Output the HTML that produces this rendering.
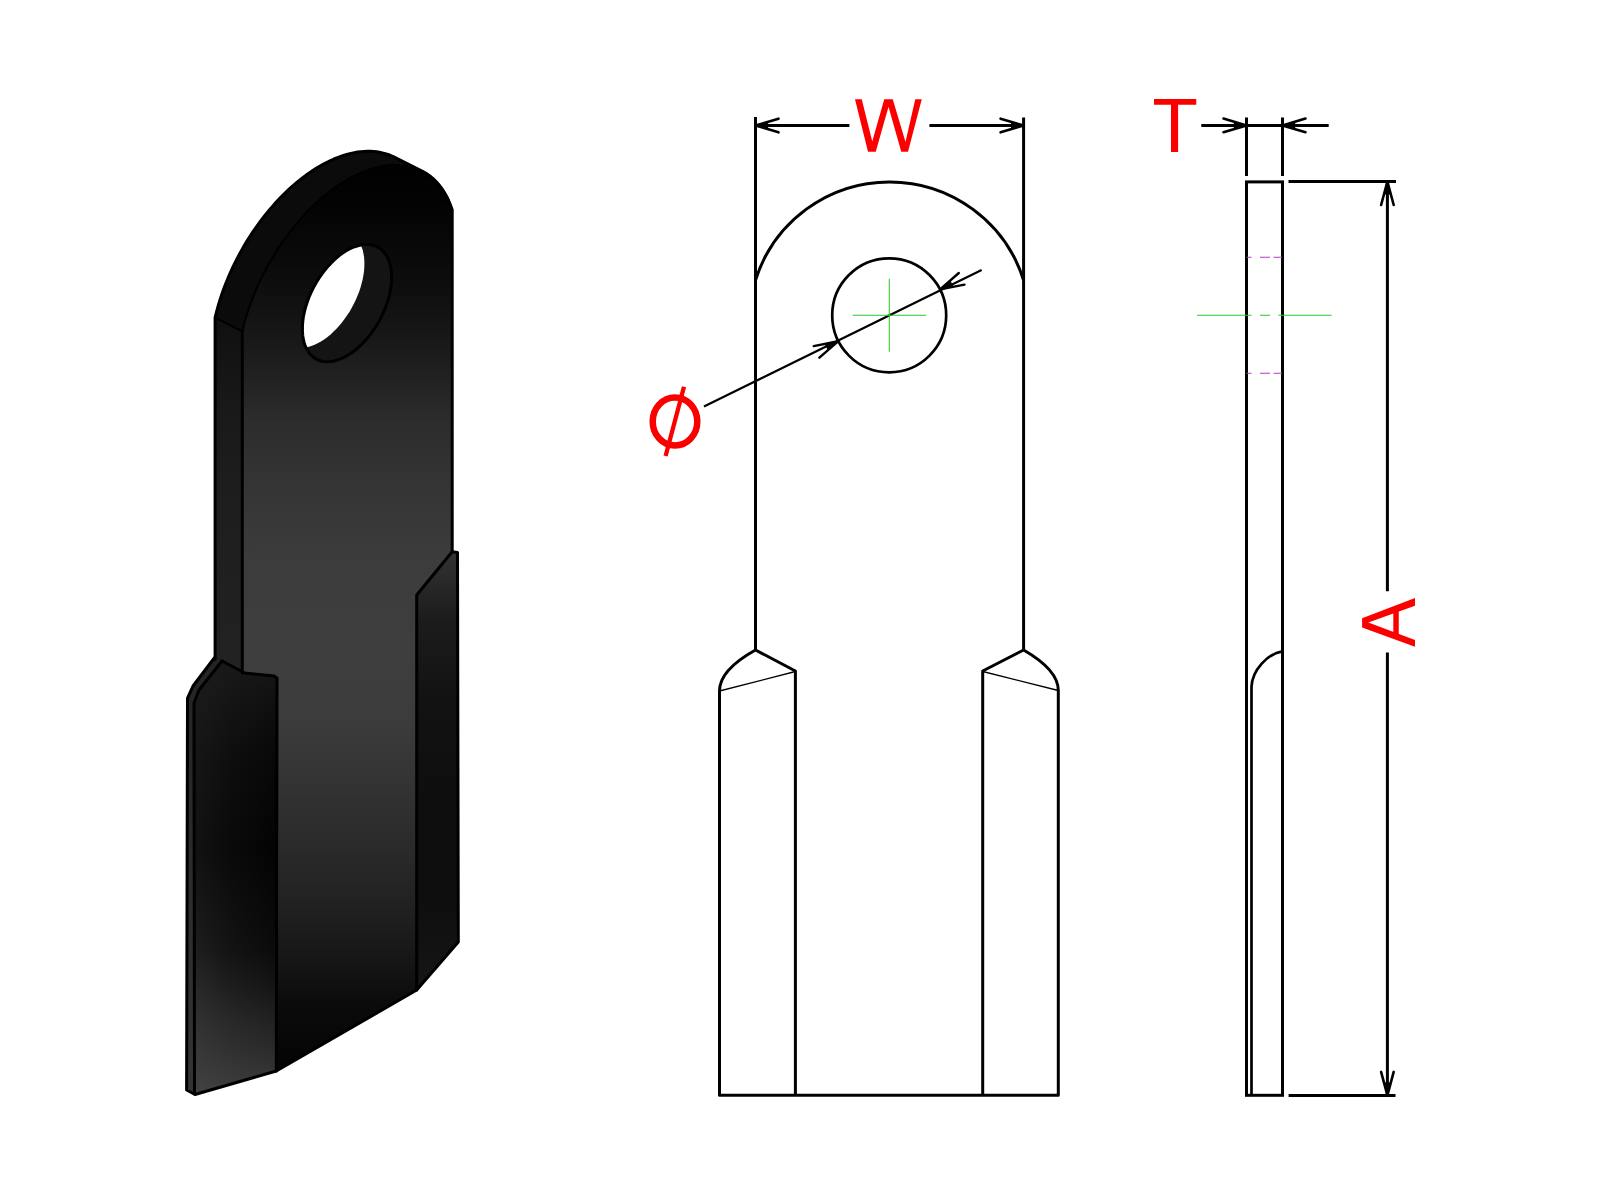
<!DOCTYPE html>
<html><head><meta charset="utf-8"><title>Blade drawing</title>
<style>html,body{margin:0;padding:0;background:#fff;} svg{display:block;}</style></head>
<body><svg width="1600" height="1200" viewBox="0 0 1600 1200">
<rect width="1600" height="1200" fill="#fff"/>

<defs>
  <linearGradient id="gFront" gradientUnits="userSpaceOnUse" x1="0" y1="150" x2="0" y2="1075">
    <stop offset="0.000" stop-color="#000000"/><stop offset="0.054" stop-color="#030303"/><stop offset="0.119" stop-color="#0a0a0a"/><stop offset="0.162" stop-color="#101010"/><stop offset="0.205" stop-color="#181818"/><stop offset="0.249" stop-color="#222222"/><stop offset="0.292" stop-color="#2c2c2c"/><stop offset="0.357" stop-color="#343434"/><stop offset="0.443" stop-color="#3c3c3c"/><stop offset="0.541" stop-color="#3e3e3e"/><stop offset="0.616" stop-color="#3c3c3c"/><stop offset="0.681" stop-color="#343434"/><stop offset="0.757" stop-color="#2a2a2a"/><stop offset="0.811" stop-color="#222222"/><stop offset="0.876" stop-color="#161616"/><stop offset="0.919" stop-color="#0c0c0c"/><stop offset="0.984" stop-color="#040404"/><stop offset="1.000" stop-color="#030303"/>
  </linearGradient>
  <linearGradient id="gStrip" gradientUnits="userSpaceOnUse" x1="0" y1="320" x2="0" y2="670">
    <stop offset="0.000" stop-color="#101010"/><stop offset="0.229" stop-color="#181818"/><stop offset="0.514" stop-color="#1e1e1e"/><stop offset="1.000" stop-color="#222222"/>
  </linearGradient>
  <linearGradient id="gLF" gradientUnits="userSpaceOnUse" x1="0" y1="680" x2="0" y2="1095">
    <stop offset="-0.024" stop-color="#1c1c1c"/><stop offset="0.193" stop-color="#161616"/><stop offset="0.410" stop-color="#121212"/><stop offset="0.651" stop-color="#1e1e1e"/><stop offset="0.819" stop-color="#323232"/><stop offset="1.000" stop-color="#424242"/>
  </linearGradient>
  <linearGradient id="gLFo" gradientUnits="userSpaceOnUse" x1="195" y1="0" x2="277" y2="0">
    <stop offset="0" stop-color="#000" stop-opacity="0"/>
    <stop offset="0.45" stop-color="#000" stop-opacity="0.45"/>
    <stop offset="1" stop-color="#000" stop-opacity="0.8"/>
  </linearGradient>
  <linearGradient id="gLFm" gradientUnits="userSpaceOnUse" x1="0" y1="670" x2="0" y2="1095">
    <stop offset="0.000" stop-color="#505050"/><stop offset="0.212" stop-color="#c8c8c8"/><stop offset="0.424" stop-color="#ffffff"/><stop offset="0.659" stop-color="#c8c8c8"/><stop offset="0.824" stop-color="#6e6e6e"/><stop offset="1.000" stop-color="#191919"/>
  </linearGradient>
  <mask id="mLF" maskUnits="userSpaceOnUse" x="150" y="600" width="200" height="550"><rect x="150" y="600" width="200" height="550" fill="url(#gLFm)"/></mask>
  <linearGradient id="gRF" gradientUnits="userSpaceOnUse" x1="0" y1="552" x2="0" y2="990">
    <stop offset="0.000" stop-color="#323232"/><stop offset="0.155" stop-color="#1c1c1c"/><stop offset="0.338" stop-color="#121212"/><stop offset="0.566" stop-color="#0e0e0e"/><stop offset="0.795" stop-color="#0e0e0e"/><stop offset="1.000" stop-color="#161616"/>
  </linearGradient>
  <linearGradient id="gThin" gradientUnits="userSpaceOnUse" x1="0" y1="660" x2="0" y2="1095">
    <stop offset="0.000" stop-color="#242424"/><stop offset="1.000" stop-color="#343434"/>
  </linearGradient>
  <clipPath id="cHoleF"><polygon points="391.6,277.3 391.5,281.0 391.2,284.9 390.6,288.8 389.9,292.8 388.9,296.8 387.8,300.9 386.4,305.0 384.8,309.1 383.1,313.2 381.2,317.2 379.1,321.1 376.9,325.0 374.5,328.7 371.9,332.3 369.3,335.8 366.6,339.1 363.7,342.3 360.8,345.2 357.8,348.0 354.7,350.5 351.7,352.8 348.5,354.8 345.4,356.6 342.3,358.2 339.2,359.4 336.2,360.4 333.2,361.2 330.3,361.6 327.4,361.7 324.7,361.6 322.0,361.2 319.5,360.5 317.1,359.5 314.9,358.2 312.8,356.7 310.9,354.9 309.1,352.9 307.6,350.6 306.2,348.1 305.0,345.3 304.1,342.4 303.3,339.2 302.8,335.9 302.5,332.5 302.4,328.9 302.5,325.1 302.8,321.3 303.3,317.3 304.1,313.3 305.0,309.3 306.2,305.2 307.6,301.1 309.1,297.0 310.9,292.9 312.8,288.9 314.9,285.0 317.1,281.1 319.5,277.4 322.0,273.8 324.7,270.3 327.4,267.0 330.3,263.9 333.2,260.9 336.2,258.2 339.2,255.6 342.3,253.3 345.4,251.3 348.5,249.5 351.7,247.9 354.7,246.7 357.8,245.7 360.8,245.0 363.7,244.5 366.6,244.4 369.3,244.5 371.9,244.9 374.5,245.6 376.9,246.6 379.1,247.9 381.2,249.4 383.1,251.2 384.8,253.3 386.4,255.5 387.8,258.1 388.9,260.8 389.9,263.7 390.6,266.9 391.2,270.2 391.5,273.7"/></clipPath>
</defs>
<polygon points="215.1,659.5 215.1,317.7 216.2,313.2 217.4,308.6 218.7,304.0 220.1,299.5 221.6,294.9 223.2,290.3 224.9,285.7 226.7,281.2 228.6,276.6 230.6,272.1 232.6,267.6 234.8,263.1 237.1,258.7 239.4,254.3 241.8,249.9 244.3,245.6 246.8,241.3 249.5,237.1 252.2,232.9 255.0,228.9 257.8,224.8 260.7,220.9 263.7,217.0 266.7,213.2 269.8,209.5 272.9,205.9 276.0,202.3 279.3,198.9 282.5,195.5 285.8,192.3 289.1,189.2 292.5,186.1 295.9,183.2 299.3,180.4 302.7,177.7 306.2,175.1 309.6,172.7 313.1,170.3 316.6,168.1 320.1,166.0 323.5,164.1 327.0,162.3 330.5,160.6 334.0,159.0 337.4,157.6 340.8,156.4 344.2,155.2 347.6,154.3 351.0,153.4 354.3,152.7 357.6,152.1 360.9,151.7 364.1,151.5 367.2,151.3 370.4,151.3 373.4,151.5 376.5,151.8 379.4,152.3 382.3,152.9 385.2,153.6 387.9,154.5 390.6,155.5 393.3,156.7 420.5,170.3 423.0,171.6 425.5,173.0 427.9,174.6 430.3,176.3 432.5,178.2 434.7,180.2 436.7,182.3 438.7,184.5 440.6,186.9 442.4,189.4 444.1,192.0 445.7,194.7 447.2,197.5 448.6,200.5 449.9,203.5 451.1,206.7 452.2,210.0 452.2,551.7 457.5,552.5 458.3,942.0 416.7,990.0 276.3,1071.0 195.0,1094.5 186.6,1090.0 187.5,698.0 193.0,686.0 215.0,657.0" fill="#0b0b0b"/>
<polygon points="215.1,317.6 242.3,331.3 242.3,673.1 222.0,661.0 215.0,657.0" fill="url(#gStrip)"/>
<polygon points="242.3,331.3 243.4,326.8 244.6,322.2 245.9,317.6 247.3,313.1 248.8,308.5 250.4,303.9 252.1,299.3 253.9,294.8 255.8,290.2 257.8,285.7 259.8,281.2 262.0,276.7 264.3,272.3 266.6,267.9 269.0,263.5 271.5,259.2 274.0,254.9 276.7,250.7 279.4,246.5 282.2,242.5 285.0,238.4 287.9,234.5 290.9,230.6 293.9,226.8 297.0,223.1 300.1,219.5 303.2,215.9 306.5,212.5 309.7,209.1 313.0,205.9 316.3,202.8 319.7,199.7 323.1,196.8 326.5,194.0 329.9,191.3 333.4,188.7 336.8,186.3 340.3,183.9 343.8,181.7 347.3,179.6 350.7,177.7 354.2,175.9 357.7,174.2 361.2,172.6 364.6,171.2 368.0,170.0 371.4,168.8 374.8,167.9 378.2,167.0 381.5,166.3 384.8,165.7 388.1,165.3 391.3,165.1 394.4,164.9 397.6,164.9 400.6,165.1 403.7,165.4 406.6,165.9 409.5,166.5 412.4,167.2 415.1,168.1 417.8,169.1 420.5,170.3 423.0,171.6 425.5,173.0 427.9,174.6 430.3,176.3 432.5,178.2 434.7,180.2 436.7,182.3 438.7,184.5 440.6,186.9 442.4,189.4 444.1,192.0 445.7,194.7 447.2,197.5 448.6,200.5 449.9,203.5 451.1,206.7 452.2,210.0 452.2,551.7 416.7,595.0 416.7,990.0 276.3,1071.0 277.0,678.0 274.0,676.0 245.0,673.0 242.3,673.1" fill="url(#gFront)"/>
<polygon points="222.0,661.0 245.0,673.0 274.0,676.0 277.0,678.0 276.3,1071.0 195.0,1094.5 194.0,703.0 199.0,690.0" fill="url(#gLF)"/>
<polygon points="222.0,661.0 245.0,673.0 274.0,676.0 277.0,678.0 276.3,1071.0 195.0,1094.5 194.0,703.0 199.0,690.0" fill="url(#gLFo)" mask="url(#mLF)"/>
<polygon points="215.0,657.0 222.0,661.0 199.0,690.0 194.0,703.0 195.0,1094.5 186.6,1090.0 187.5,698.0 193.0,686.0" fill="url(#gThin)"/>
<polygon points="452.2,551.7 457.5,552.5 458.3,942.0 416.7,990.0 416.7,595.0" fill="url(#gRF)"/>
<polygon points="391.6,277.3 391.5,281.0 391.2,284.9 390.6,288.8 389.9,292.8 388.9,296.8 387.8,300.9 386.4,305.0 384.8,309.1 383.1,313.2 381.2,317.2 379.1,321.1 376.9,325.0 374.5,328.7 371.9,332.3 369.3,335.8 366.6,339.1 363.7,342.3 360.8,345.2 357.8,348.0 354.7,350.5 351.7,352.8 348.5,354.8 345.4,356.6 342.3,358.2 339.2,359.4 336.2,360.4 333.2,361.2 330.3,361.6 327.4,361.7 324.7,361.6 322.0,361.2 319.5,360.5 317.1,359.5 314.9,358.2 312.8,356.7 310.9,354.9 309.1,352.9 307.6,350.6 306.2,348.1 305.0,345.3 304.1,342.4 303.3,339.2 302.8,335.9 302.5,332.5 302.4,328.9 302.5,325.1 302.8,321.3 303.3,317.3 304.1,313.3 305.0,309.3 306.2,305.2 307.6,301.1 309.1,297.0 310.9,292.9 312.8,288.9 314.9,285.0 317.1,281.1 319.5,277.4 322.0,273.8 324.7,270.3 327.4,267.0 330.3,263.9 333.2,260.9 336.2,258.2 339.2,255.6 342.3,253.3 345.4,251.3 348.5,249.5 351.7,247.9 354.7,246.7 357.8,245.7 360.8,245.0 363.7,244.5 366.6,244.4 369.3,244.5 371.9,244.9 374.5,245.6 376.9,246.6 379.1,247.9 381.2,249.4 383.1,251.2 384.8,253.3 386.4,255.5 387.8,258.1 388.9,260.8 389.9,263.7 390.6,266.9 391.2,270.2 391.5,273.7" fill="#141414"/>
<polygon points="364.4,263.7 364.3,267.4 364.0,271.3 363.4,275.2 362.7,279.2 361.7,283.2 360.6,287.3 359.2,291.4 357.6,295.5 355.9,299.6 354.0,303.6 351.9,307.5 349.7,311.4 347.3,315.1 344.7,318.7 342.1,322.2 339.4,325.5 336.5,328.7 333.6,331.6 330.6,334.4 327.5,336.9 324.5,339.2 321.3,341.2 318.2,343.0 315.1,344.6 312.0,345.8 309.0,346.8 306.0,347.6 303.1,348.0 300.2,348.1 297.5,348.0 294.8,347.6 292.3,346.9 289.9,345.9 287.7,344.6 285.6,343.1 283.7,341.3 281.9,339.3 280.4,337.0 279.0,334.5 277.8,331.7 276.9,328.8 276.1,325.6 275.6,322.3 275.3,318.9 275.2,315.3 275.3,311.5 275.6,307.7 276.1,303.7 276.9,299.7 277.8,295.7 279.0,291.6 280.4,287.5 281.9,283.4 283.7,279.3 285.6,275.3 287.7,271.4 289.9,267.5 292.3,263.8 294.8,260.2 297.5,256.7 300.2,253.4 303.1,250.3 306.0,247.3 309.0,244.6 312.0,242.0 315.1,239.7 318.2,237.7 321.3,235.9 324.5,234.3 327.5,233.1 330.6,232.1 333.6,231.4 336.5,230.9 339.4,230.8 342.1,230.9 344.7,231.3 347.3,232.0 349.7,233.0 351.9,234.3 354.0,235.8 355.9,237.6 357.6,239.7 359.2,241.9 360.6,244.5 361.7,247.2 362.7,250.1 363.4,253.3 364.0,256.6 364.3,260.1" fill="#fff" clip-path="url(#cHoleF)"/>
<g fill="none" stroke="#000" stroke-width="3" stroke-linejoin="round" stroke-linecap="round">
  <polyline points="242.3,331.3 243.4,326.8 244.6,322.2 245.9,317.6 247.3,313.1 248.8,308.5 250.4,303.9 252.1,299.3 253.9,294.8 255.8,290.2 257.8,285.7 259.8,281.2 262.0,276.7 264.3,272.3 266.6,267.9 269.0,263.5 271.5,259.2 274.0,254.9 276.7,250.7 279.4,246.5 282.2,242.5 285.0,238.4 287.9,234.5 290.9,230.6 293.9,226.8 297.0,223.1 300.1,219.5 303.2,215.9 306.5,212.5 309.7,209.1 313.0,205.9 316.3,202.8 319.7,199.7 323.1,196.8 326.5,194.0 329.9,191.3 333.4,188.7 336.8,186.3 340.3,183.9 343.8,181.7 347.3,179.6 350.7,177.7 354.2,175.9 357.7,174.2 361.2,172.6 364.6,171.2 368.0,170.0 371.4,168.8 374.8,167.9 378.2,167.0 381.5,166.3 384.8,165.7 388.1,165.3 391.3,165.1 394.4,164.9 397.6,164.9 400.6,165.1 403.7,165.4 406.6,165.9 409.5,166.5 412.4,167.2 415.1,168.1 417.8,169.1 420.5,170.3 423.0,171.6 425.5,173.0 427.9,174.6 430.3,176.3 432.5,178.2 434.7,180.2 436.7,182.3 438.7,184.5 440.6,186.9 442.4,189.4 444.1,192.0 445.7,194.7 447.2,197.5 448.6,200.5 449.9,203.5 451.1,206.7 452.2,210.0" stroke-width="2"/>
  <polyline points="242.3,331.3 242.3,673.1"/>
  <polyline points="215.1,317.6 242.3,331.3" stroke-width="2"/>
  <polyline points="222,661 245,673 274,676 277,678 276.3,1071"/>
  <polyline points="222,661 199,690 194,703 194.5,1094"/>
  <polyline points="452.2,551.7 416.7,595.0 416.7,990.0"/>
  <polygon points="391.6,277.3 391.5,281.0 391.2,284.9 390.6,288.8 389.9,292.8 388.9,296.8 387.8,300.9 386.4,305.0 384.8,309.1 383.1,313.2 381.2,317.2 379.1,321.1 376.9,325.0 374.5,328.7 371.9,332.3 369.3,335.8 366.6,339.1 363.7,342.3 360.8,345.2 357.8,348.0 354.7,350.5 351.7,352.8 348.5,354.8 345.4,356.6 342.3,358.2 339.2,359.4 336.2,360.4 333.2,361.2 330.3,361.6 327.4,361.7 324.7,361.6 322.0,361.2 319.5,360.5 317.1,359.5 314.9,358.2 312.8,356.7 310.9,354.9 309.1,352.9 307.6,350.6 306.2,348.1 305.0,345.3 304.1,342.4 303.3,339.2 302.8,335.9 302.5,332.5 302.4,328.9 302.5,325.1 302.8,321.3 303.3,317.3 304.1,313.3 305.0,309.3 306.2,305.2 307.6,301.1 309.1,297.0 310.9,292.9 312.8,288.9 314.9,285.0 317.1,281.1 319.5,277.4 322.0,273.8 324.7,270.3 327.4,267.0 330.3,263.9 333.2,260.9 336.2,258.2 339.2,255.6 342.3,253.3 345.4,251.3 348.5,249.5 351.7,247.9 354.7,246.7 357.8,245.7 360.8,245.0 363.7,244.5 366.6,244.4 369.3,244.5 371.9,244.9 374.5,245.6 376.9,246.6 379.1,247.9 381.2,249.4 383.1,251.2 384.8,253.3 386.4,255.5 387.8,258.1 388.9,260.8 389.9,263.7 390.6,266.9 391.2,270.2 391.5,273.7"/>
  <polygon points="215.1,659.5 215.1,317.7 216.2,313.2 217.4,308.6 218.7,304.0 220.1,299.5 221.6,294.9 223.2,290.3 224.9,285.7 226.7,281.2 228.6,276.6 230.6,272.1 232.6,267.6 234.8,263.1 237.1,258.7 239.4,254.3 241.8,249.9 244.3,245.6 246.8,241.3 249.5,237.1 252.2,232.9 255.0,228.9 257.8,224.8 260.7,220.9 263.7,217.0 266.7,213.2 269.8,209.5 272.9,205.9 276.0,202.3 279.3,198.9 282.5,195.5 285.8,192.3 289.1,189.2 292.5,186.1 295.9,183.2 299.3,180.4 302.7,177.7 306.2,175.1 309.6,172.7 313.1,170.3 316.6,168.1 320.1,166.0 323.5,164.1 327.0,162.3 330.5,160.6 334.0,159.0 337.4,157.6 340.8,156.4 344.2,155.2 347.6,154.3 351.0,153.4 354.3,152.7 357.6,152.1 360.9,151.7 364.1,151.5 367.2,151.3 370.4,151.3 373.4,151.5 376.5,151.8 379.4,152.3 382.3,152.9 385.2,153.6 387.9,154.5 390.6,155.5 393.3,156.7 420.5,170.3 423.0,171.6 425.5,173.0 427.9,174.6 430.3,176.3 432.5,178.2 434.7,180.2 436.7,182.3 438.7,184.5 440.6,186.9 442.4,189.4 444.1,192.0 445.7,194.7 447.2,197.5 448.6,200.5 449.9,203.5 451.1,206.7 452.2,210.0 452.2,551.7 457.5,552.5 458.3,942.0 416.7,990.0 276.3,1071.0 195.0,1094.5 186.6,1090.0 187.5,698.0 193.0,686.0 215.0,657.0"/>
</g>

<g fill="none" stroke="#000" stroke-width="3.0" stroke-linecap="butt" stroke-linejoin="round"><path d="M755.5,117 V650 M1023.6,117.5 V650"/><path d="M755.5,280.3 A140.5,140.5 0 0 1 1023.6,280.3"/><circle cx="889.2" cy="315.3" r="57" stroke-width="2.7"/><path d="M755.5,650 Q719.5,670 719.5,691 V1095.3 H1058.3 V690.5 Q1058.3,670 1023.6,650"/><path d="M755.5,650 L795.4,671 V1095.3 M1023.6,650 L982.7,671 V1095.3"/></g><path d="M719.5,691 L795.4,671.5 M982.7,671.5 L1058.3,690.5" fill="none" stroke="#000" stroke-width="1.3"/><path d="M755.5,125.5 H849.4 M929.4,125.5 H1023.6" stroke="#000" stroke-width="3.0" fill="none"/><polyline points="778.5,132.3 755.5,125.5 778.5,118.7" fill="none" stroke="#000" stroke-width="2.6" stroke-linecap="round" stroke-linejoin="round"/><polygon points="755.5,125.5 768.1,129.2 768.1,121.8" fill="#000"/><polyline points="1000.6,118.7 1023.6,125.5 1000.6,132.3" fill="none" stroke="#000" stroke-width="2.6" stroke-linecap="round" stroke-linejoin="round"/><polygon points="1023.6,125.5 1011.0,121.8 1011.0,129.2" fill="#000"/><path d="M704,406.6 L981.6,270.1" stroke="#000" stroke-width="2.2" fill="none"/><polyline points="813.7,346.1 838.1,341.3 819.4,357.7" fill="none" stroke="#000" stroke-width="2.4" stroke-linecap="round" stroke-linejoin="round"/><polygon points="838.1,341.3 824.7,343.9 827.8,350.3" fill="#000"/><polyline points="964.5,284.6 940.1,289.4 958.8,273.0" fill="none" stroke="#000" stroke-width="2.4" stroke-linecap="round" stroke-linejoin="round"/><polygon points="940.1,289.4 953.5,286.8 950.4,280.4" fill="#000"/><path d="M852.7,315.3 H926.2 M889.3,278.8 V351.8" stroke="#2ec82e" stroke-width="1.05" fill="none"/><g fill="none" stroke="#000" stroke-width="3.0"><rect x="1246.5" y="181.9" width="36" height="913.4"/><path d="M1251.5,1095.3 V687 C1252,670 1268,653.5 1282.4,651.3" stroke-width="2.7"/><path d="M1246.5,117.5 V176 M1282.5,117.5 V176"/><path d="M1201.3,125.4 H1328.7"/><path d="M1288.5,181.5 H1396 M1288.6,1095.4 H1395.5"/><path d="M1387.4,181.5 V591.3 M1387.4,652.5 V1095.4"/></g><polyline points="1223.5,118.6 1246.5,125.4 1223.5,132.2" fill="none" stroke="#000" stroke-width="2.6" stroke-linecap="round" stroke-linejoin="round"/><polygon points="1246.5,125.4 1233.8,121.7 1233.8,129.1" fill="#000"/><polyline points="1305.5,132.2 1282.5,125.4 1305.5,118.6" fill="none" stroke="#000" stroke-width="2.6" stroke-linecap="round" stroke-linejoin="round"/><polygon points="1282.5,125.4 1295.2,129.1 1295.2,121.7" fill="#000"/><polyline points="1381.1,205.0 1387.4,181.5 1393.7,205.0" fill="none" stroke="#000" stroke-width="2.6" stroke-linecap="round" stroke-linejoin="round"/><polygon points="1387.4,181.5 1383.9,194.4 1390.9,194.4" fill="#000"/><polyline points="1393.7,1071.9 1387.4,1095.4 1381.1,1071.9" fill="none" stroke="#000" stroke-width="2.6" stroke-linecap="round" stroke-linejoin="round"/><polygon points="1387.4,1095.4 1390.9,1082.5 1383.9,1082.5" fill="#000"/><path d="M1197,315.3 H1251.5 M1260,315.3 H1270 M1278.4,315.3 H1331.6" stroke="#2ec82e" stroke-width="1.05" fill="none"/><path d="M1246.5,257.2 H1251.5 M1260,257.2 H1270 M1273.5,257.2 H1282 M1246.5,373.3 H1251.5 M1260,373.3 H1270 M1273.5,373.3 H1282" stroke="#b83cc8" stroke-width="1.1" fill="none"/><polygon fill="#fc0000" points="855,99.25 861.75,99.25 872.25,141.5 884.25,99.25 892.75,99.25 905.5,142 915.25,99.25 921.75,99.25 908,151.75 901.25,151.75 888.5,106.75 875.75,151.75 868,151.75"/><path fill="#fc0000" d="M1154,99 H1196.25 V104.75 H1178.1 V151.9 H1171 V104.75 H1154 Z"/><polygon fill="#fc0000" points="1362.1,618.3 1415,597.9 1415,605.8 1368.3,622.5 1415,640 1415,646.7 1362.1,627.5"/><rect fill="#fc0000" x="1393.3" y="610" width="5.45" height="25"/><ellipse cx="675" cy="421.5" rx="22.3" ry="24" fill="none" stroke="#fc0000" stroke-width="6.5"/><path d="M684,386.7 L665.6,456" stroke="#fc0000" stroke-width="4.3" fill="none"/>
</svg></body></html>
